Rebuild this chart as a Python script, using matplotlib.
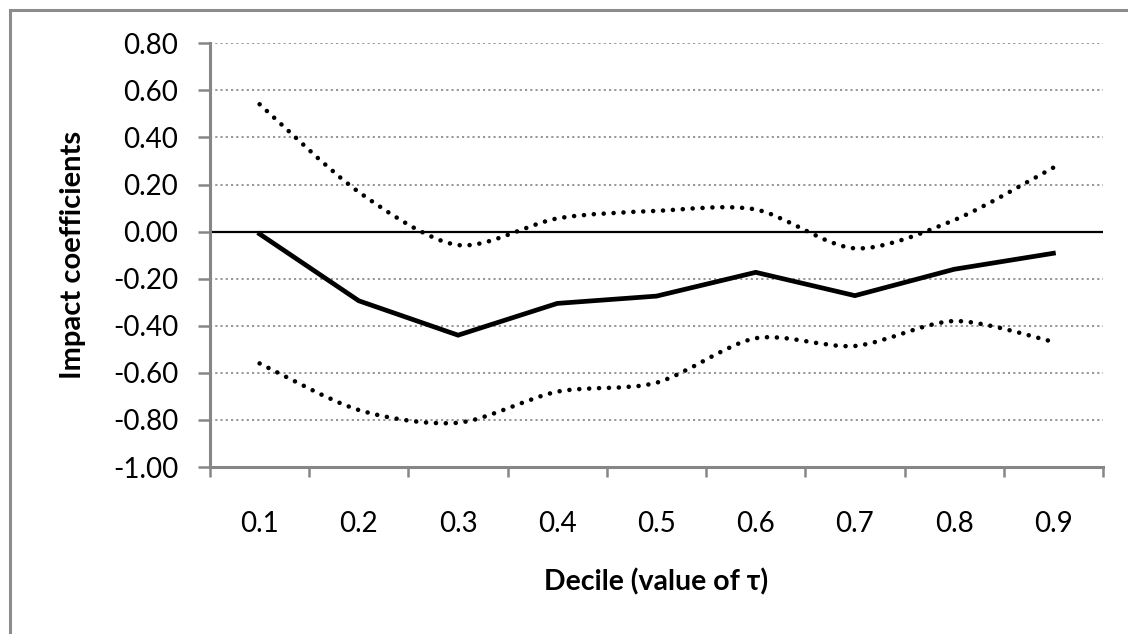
import matplotlib
matplotlib.use("Agg")
import matplotlib.pyplot as plt
from matplotlib.path import Path
from matplotlib.patches import PathPatch, Rectangle
import numpy as np

plt.rcParams['font.family'] = ['Lato', 'DejaVu Sans']

deciles = ["0.1", "0.2", "0.3", "0.4", "0.5", "0.6", "0.7", "0.8", "0.9"]
coef = [-0.01, -0.294, -0.44, -0.305, -0.274, -0.173, -0.272, -0.16, -0.092]
upper = [0.541, 0.168, -0.057, 0.056, 0.088, 0.094, -0.071, 0.049, 0.272]
lower = [-0.56, -0.758, -0.812, -0.68, -0.642, -0.453, -0.486, -0.38, -0.468]
yticks = [0.8, 0.6, 0.4, 0.2, 0.0, -0.2, -0.4, -0.6, -0.8, -1.0]

W, H = 1128, 634
fig = plt.figure(figsize=(W / 100, H / 100), dpi=100)
ax = fig.add_axes([210 / W, 1 - 467 / H, (1103 - 210) / W, (467 - 43.3) / H])

x = np.arange(len(deciles))


def smooth_path(xs, ys, k=1.0 / 7.0):
    pts = np.column_stack([xs, ys]).astype(float)
    n = len(pts)
    verts = [pts[0]]
    codes = [Path.MOVETO]
    for i in range(n - 1):
        p0 = pts[i - 1] if i > 0 else pts[i]
        p1 = pts[i]
        p2 = pts[i + 1]
        p3 = pts[i + 2] if i + 2 < n else pts[i + 1]
        c1 = p1 + (p2 - p0) * k
        c2 = p2 - (p3 - p1) * k
        verts += [c1, c2, p2]
        codes += [Path.CURVE4] * 3
    return Path(verts, codes)


# gridlines
for yv in yticks:
    if yv == 0.0:
        continue
    ax.axhline(yv, color='#969696', lw=1.4, linestyle=(0, (1.1, 1.6)), zorder=1)
ax.axhline(0.0, color='black', lw=1.6, zorder=2)

for series in (upper, lower):
    patch = PathPatch(smooth_path(x, series), facecolor='none', edgecolor='black',
                      lw=3.3, linestyle=(0, (0.01, 2.15)), capstyle='round', zorder=3)
    ax.add_patch(patch)

ax.plot(x, coef, color='black', lw=3.4, solid_joinstyle='miter', zorder=4)

ax.set_xlim(-0.5, len(deciles) - 0.5)
ax.set_ylim(-1.0, 0.8)

ax.set_yticks(yticks)
ax.set_yticklabels([f"{v:.2f}" for v in yticks])
ax.set_xticks(np.arange(-0.5, len(deciles), 1.0))
ax.set_xticklabels([])
ax.set_xticks(x, minor=True)
ax.set_xticklabels(deciles, minor=True)

ax.tick_params(axis='y', length=9, width=1.8, color='#868686', pad=14, labelsize=20)
ax.tick_params(axis='x', which='major', length=7, width=1.8, color='#868686', direction='out')
ax.tick_params(axis='x', which='minor', length=0, pad=32, labelsize=20)

for s in ('top', 'right'):
    ax.spines[s].set_visible(False)
for s in ('left', 'bottom'):
    ax.spines[s].set_color('#868686')
    ax.spines[s].set_linewidth(2.2)

ax.set_ylabel("Impact coefficients", fontsize=21, fontweight='bold', labelpad=19)
ax.set_xlabel("Decile (value of τ)", fontsize=20.5, fontweight='bold', labelpad=22)

# outer chart border
fig.add_artist(Rectangle((10 / W, -0.1), 1.2, 1 - 10 / H + 0.1, transform=fig.transFigure,
                         fill=False, edgecolor='#8c8c8c', lw=2.2))

fig.savefig("out.png", dpi=100)
